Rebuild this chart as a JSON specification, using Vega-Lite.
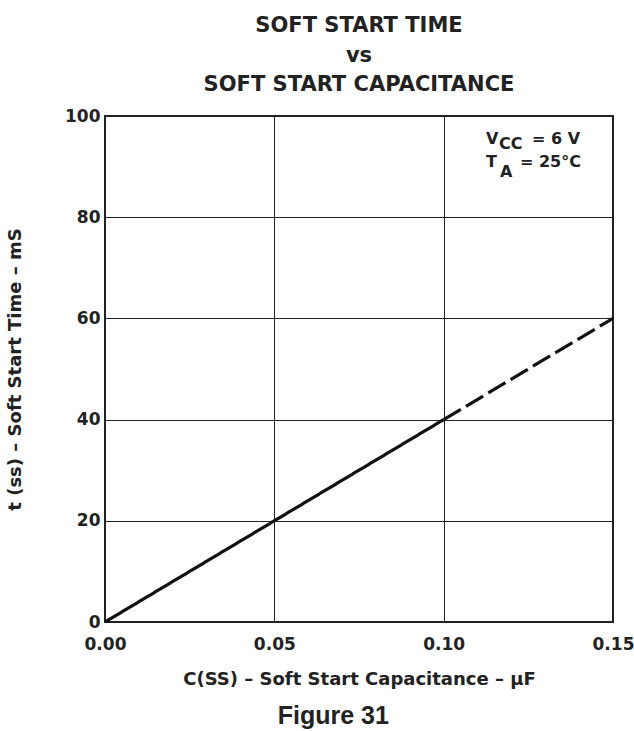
{
  "$schema": "https://vega.github.io/schema/vega-lite/v6.json",
  "padding": {"left": 5, "top": 14, "right": 10, "bottom": 0},
  "background": "white",
  "title": {
    "text": "Figure 31",
    "orient": "bottom",
    "anchor": "middle",
    "font": "Liberation Sans",
    "fontSize": 25,
    "fontWeight": "bold",
    "color": "#222",
    "offset": 15,
    "dx": 13
  },
  "config": {
    "view": {"stroke": "#222", "strokeWidth": 2},
    "font": "DejaVu Sans"
  },
  "vconcat": [
    {
      "width": 508,
      "height": 506,
      "title": {
        "text": ["SOFT START TIME", "vs", "SOFT START CAPACITANCE"],
        "anchor": "middle",
        "font": "DejaVu Sans",
        "fontSize": 21,
        "fontWeight": "bold",
        "color": "#222",
        "lineHeight": 29.5,
        "offset": 12
      },
      "layer": [
        {
          "data": {
            "values": [
              {"c": 0.0, "t": 0, "seg": "solid"},
              {"c": 0.1, "t": 40, "seg": "solid"},
              {"c": 0.1, "t": 40, "seg": "dashed"},
              {"c": 0.15, "t": 60, "seg": "dashed"}
            ]
          },
          "mark": {"type": "line", "color": "#111", "strokeWidth": 3.2, "clip": false},
          "encoding": {
            "x": {
              "field": "c",
              "type": "quantitative",
              "scale": {"domain": [0, 0.15], "nice": false},
              "axis": {
                "values": [0, 0.05, 0.1, 0.15],
                "format": ".2f",
                "title": "C(SS) – Soft Start Capacitance – µF",
                "grid": true,
                "gridColor": "#222",
                "gridWidth": 1,
                "gridOpacity": 1,
                "domain": false,
                "ticks": false,
                "labelFlush": false,
                "labelPadding": 14,
                "labelFont": "DejaVu Sans",
                "labelFontSize": 17,
                "labelFontWeight": "bold",
                "labelColor": "#222",
                "titleFont": "DejaVu Sans",
                "titleFontSize": 18,
                "titleFontWeight": "bold",
                "titleColor": "#222",
                "titlePadding": 18
              }
            },
            "y": {
              "field": "t",
              "type": "quantitative",
              "scale": {"domain": [0, 100], "nice": false},
              "axis": {
                "values": [0, 20, 40, 60, 80, 100],
                "title": "t (ss) – Soft Start Time – mS",
                "grid": true,
                "gridColor": "#222",
                "gridWidth": 1,
                "gridOpacity": 1,
                "domain": false,
                "ticks": false,
                "labelFlush": false,
                "labelPadding": 5,
                "labelFont": "DejaVu Sans",
                "labelFontSize": 17,
                "labelFontWeight": "bold",
                "labelColor": "#222",
                "titleFont": "DejaVu Sans",
                "titleFontSize": 18,
                "titleFontWeight": "bold",
                "titleColor": "#222",
                "titlePadding": 40
              }
            },
            "detail": {"field": "seg"},
            "strokeDash": {
              "field": "seg",
              "type": "nominal",
              "scale": {"domain": ["solid", "dashed"], "range": [[1, 0], [20, 6]]},
              "legend": null
            }
          }
        },
        {
          "data": {
            "values": [
              {"c": 0.1125, "t": 94.47, "label": "V"},
              {"c": 0.12608, "t": 94.47, "label": "= 6 V"},
              {"c": 0.1125, "t": 89.92, "label": "T"},
              {"c": 0.12254, "t": 89.92, "label": "= 25°C"}
            ]
          },
          "mark": {"type": "text", "align": "left", "baseline": "alphabetic", "font": "DejaVu Sans", "fontSize": 16, "fontWeight": "bold", "color": "#222"},
          "encoding": {
            "x": {"field": "c", "type": "quantitative"},
            "y": {"field": "t", "type": "quantitative"},
            "text": {"field": "label"}
          }
        },
        {
          "data": {
            "values": [
              {"c": 0.11634, "t": 93.48, "label": "CC"},
              {"c": 0.11663, "t": 87.87, "label": "A"}
            ]
          },
          "mark": {"type": "text", "align": "left", "baseline": "alphabetic", "font": "DejaVu Sans", "fontSize": 16, "fontWeight": "bold", "color": "#222"},
          "encoding": {
            "x": {"field": "c", "type": "quantitative"},
            "y": {"field": "t", "type": "quantitative"},
            "text": {"field": "label"}
          }
        }
      ]
    }
  ]
}
